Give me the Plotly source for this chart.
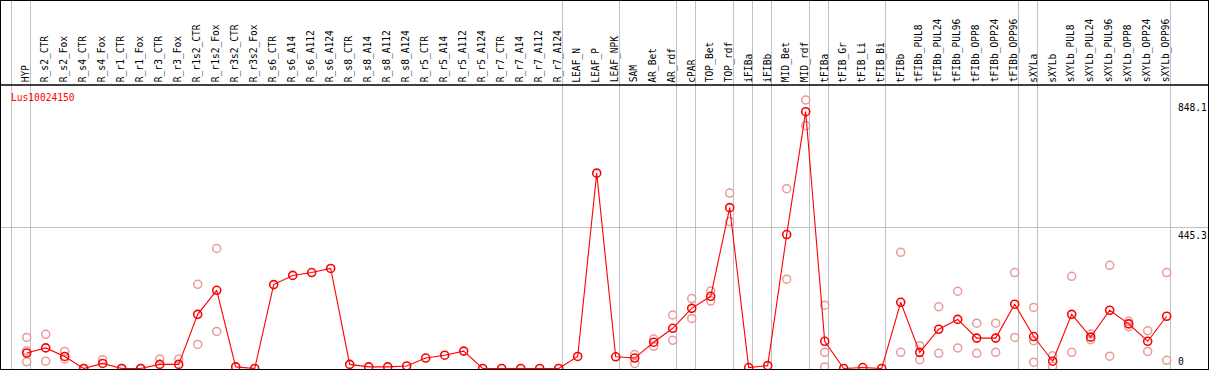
import plotly.graph_objects as go

categories = ["HYP", "R_s2_CTR", "R_s2_Fox", "R_s4_CTR", "R_s4_Fox", "R_r1_CTR", "R_r1_Fox",
              "R_r3_CTR", "R_r3_Fox", "R_r1s2_CTR", "R_r1s2_Fox", "R_r3s2_CTR", "R_r3s2_Fox",
              "R_s6_CTR", "R_s6_A14", "R_s6_A112", "R_s6_A124", "R_s8_CTR", "R_s8_A14", "R_s8_A112",
              "R_s8_A124", "R_r5_CTR", "R_r5_A14", "R_r5_A112", "R_r5_A124", "R_r7_CTR", "R_r7_A14",
              "R_r7_A112", "R_r7_A124", "LEAF_N", "LEAF_P", "LEAF_NPK", "SAM", "AR_Bet", "AR_rdf",
              "cPAR", "TOP_Bet", "TOP_rdf", "iFIBa", "iFIBb", "MID_Bet", "MID_rdf", "tFIBa",
              "tFIB_Gr", "tFIB_Li", "tFIB_Bi", "tFIBb", "tFIBb_PUL8", "tFIBb_PUL24", "tFIBb_PUL96",
              "tFIBb_OPP8", "tFIBb_OPP24", "tFIBb_OPP96", "sXYLa", "sXYLb", "sXYLb_PUL8",
              "sXYLb_PUL24", "sXYLb_PUL96", "sXYLb_OPP8", "sXYLb_OPP24", "sXYLb_OPP96"]

mean_values = [49, 65, 38, 0, 16, 0, 0, 13, 13, 171, 247, 5, 0, 265, 294, 303, 316, 13, 5, 5,
               8, 33, 42, 55, 0, 0, 0, 0, 0, 38, 617, 37, 33, 83, 127, 190, 228, 508, 3, 9,
               423, 811, 86, 0, 3, 0, 209, 51, 124, 155, 96, 96, 203, 101, 23, 171, 99, 184,
               141, 86, 165]

N = None
rep_high = [98, 108, 54, 0, 28, 0, 0, 30, 30, 266, 379, N, N, N, N, N, N, N, N, N,
            N, N, N, N, N, N, N, N, N, N, N, N, 44, 93, 169, 221, 245, 554, N, N,
            568, 848.1, 200, N, N, N, 367, 72, 195, 244, 143, 143, 303, 193, 40, 291, 109, 326,
            149, 119, 303]
rep_low = [21, 23, 30, N, N, N, N, N, N, 76, 117, N, N, N, N, N, N, N, N, N,
           N, N, N, N, N, N, N, N, N, N, N, N, 16, 70, 89, 158, 213, 464, N, N,
           282, 767, 51, N, N, N, 51, 28, 48, 65, 48, 51, 98, 88, 7, 51, 91, 39,
           132, 54, 26]
rep_extra = [56, N, N, N, N, N, N, N, N, N, N, N, N, N, N, N, N, N, N, N,
             N, N, N, N, N, N, N, N, N, N, N, N, N, N, N, N, N, N, N, N,
             N, N, 5, N, N, N, N, N, N, N, N, N, N, 20, N, N, N, N,
             N, N, N]

# group separators (vertical lines drawn after these category indices)
separators_after = [-1, 0, 28, 31, 34, 35, 37, 38, 39, 41, 42, 45, 52, 53, 60]
y_ticks = [0, 445.3, 848.1]
gene_id = "Lus10024150"

FONT = "DejaVu Sans Mono"
RED = "#ff0000"
PALE = "#e99a9a"
GRID = "#c0c0c0"

xs = list(range(len(categories)))
fig = go.Figure()

for reps in (rep_high, rep_low, rep_extra):
    fig.add_trace(go.Scatter(
        x=xs, y=reps, mode="markers",
        marker=dict(symbol="circle-open", size=8, color=PALE, line=dict(width=1.5, color=PALE)),
        hoverinfo="skip", showlegend=False))

fig.add_trace(go.Scatter(
    x=xs, y=mean_values, mode="lines+markers",
    line=dict(color=RED, width=1.1),
    marker=dict(symbol="circle-open", size=8, color=RED, line=dict(width=1.6, color=RED)),
    showlegend=False))

# plot area pixel geometry: x 1..1208, y 1..369
PLOT_H = 368.0
label_line_paper = (369 - 85) / PLOT_H

annotations = []
for i, c in enumerate(categories):
    annotations.append(dict(
        x=i, y=(369 - 83.5) / PLOT_H, xref="x", yref="paper",
        text=c, textangle=-90, showarrow=False, xanchor="center", yanchor="bottom",
        xshift=-1, borderpad=0,
        font=dict(family=FONT, size=9.6, color="black")))

annotations.append(dict(
    x=(10 - 1) / 1207, y=(369 - 97) / PLOT_H, xref="paper", yref="paper",
    text=gene_id, showarrow=False, xanchor="left", yanchor="middle", borderpad=0,
    font=dict(family=FONT, size=9.6, color=RED)))

for v in y_ticks:
    annotations.append(dict(
        x=(1176 - 1) / 1207, y=v, xref="paper", yref="y",
        text=("%g" % v), showarrow=False, xanchor="left",
        yanchor=("bottom" if v == 0 else "top"), borderpad=1,
        font=dict(family=FONT, size=9.6, color="black")))

shapes = [dict(type="line", xref="paper", yref="paper", x0=0, x1=1,
               y0=label_line_paper, y1=label_line_paper,
               line=dict(color="black", width=1.5))]

fig.update_layout(
    width=1209, height=370,
    margin=dict(l=1, r=1, t=1, b=1, pad=0),
    paper_bgcolor="white", plot_bgcolor="white",
    annotations=annotations, shapes=shapes,
    xaxis=dict(range=[-1.3526, 62.174], tickvals=[s + 0.2 for s in separators_after],
               showticklabels=False, ticks="", showgrid=True, gridcolor=GRID, gridwidth=1,
               zeroline=False, showline=True, linecolor="black", linewidth=1, mirror=True),
    yaxis=dict(range=[-1.57, 1160.6], tickvals=[445.3], showticklabels=False, ticks="",
               showgrid=True, gridcolor=GRID, gridwidth=1, zeroline=False,
               showline=True, linecolor="black", linewidth=1, mirror=True),
)

fig.write_html("out.html", config={"displayModeBar": False},
               post_script="document.body.style.margin='0px';document.body.style.overflow='hidden';")
